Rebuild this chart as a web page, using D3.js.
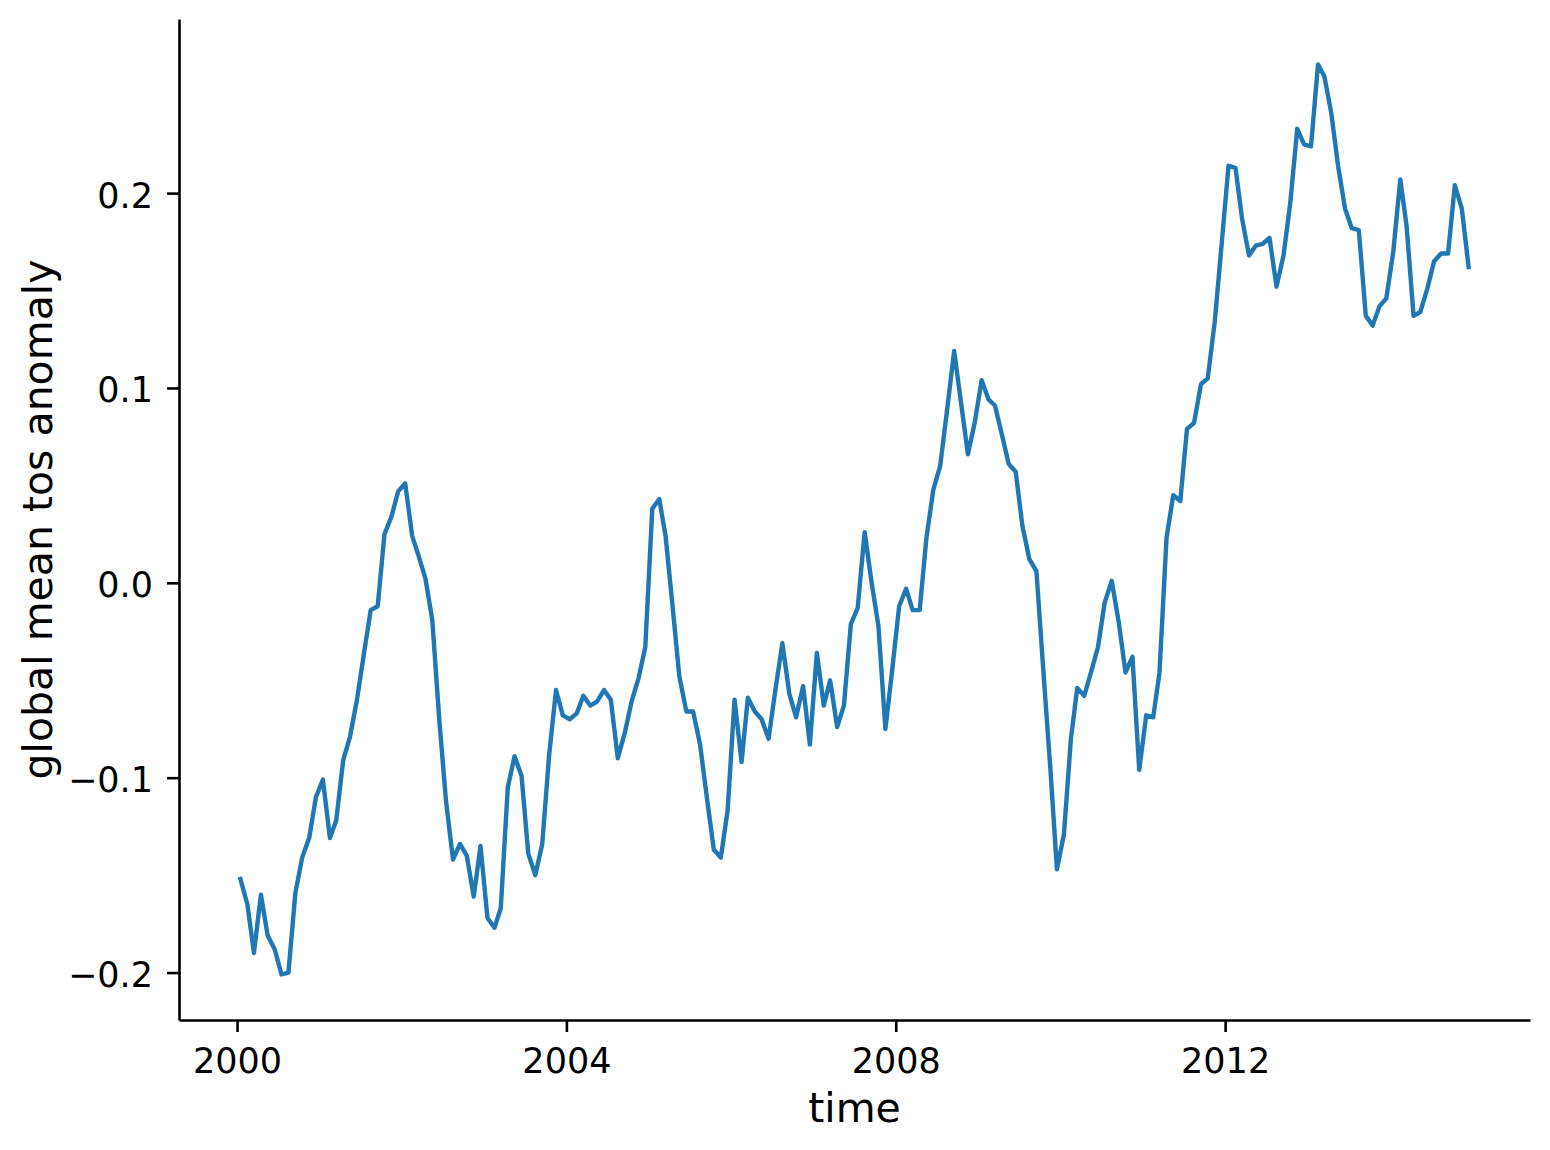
<!DOCTYPE html>
<html>
<head>
<meta charset="utf-8">
<script src="https://cdn.jsdelivr.net/npm/d3@7"></script>
<style>
  body { margin: 0; background: #fff; }
  svg text { font-family: "DejaVu Sans", sans-serif; fill: #000; }
</style>
</head>
<body>
<svg id="chart" width="1550" height="1150"></svg>
<script>
// years covered, one value per month
const years = [2000, 2001, 2002, 2003, 2004, 2005, 2006, 2007, 2008, 2009, 2010, 2011, 2012, 2013, 2014];

// global mean tos anomaly, monthly
const anomaly = [
  -0.152, -0.165, -0.190, -0.160, -0.181, -0.188, -0.201, -0.200, -0.159, -0.141, -0.131, -0.110,
  -0.101, -0.131, -0.122, -0.091, -0.079, -0.060, -0.037, -0.014, -0.012, 0.025, 0.034, 0.047,
  0.051, 0.024, 0.014, 0.002, -0.019, -0.070, -0.112, -0.142, -0.134, -0.140, -0.161, -0.135,
  -0.172, -0.177, -0.167, -0.105, -0.089, -0.099, -0.139, -0.150, -0.134, -0.089, -0.055, -0.068,
  -0.070, -0.067, -0.058, -0.063, -0.061, -0.055, -0.060, -0.090, -0.077, -0.061, -0.049, -0.033,
  0.038, 0.043, 0.024, -0.012, -0.048, -0.066, -0.066, -0.083, -0.111, -0.137, -0.141, -0.117,
  -0.060, -0.092, -0.059, -0.066, -0.070, -0.080, -0.055, -0.031, -0.057, -0.069, -0.053, -0.083,
  -0.036, -0.063, -0.050, -0.074, -0.063, -0.021, -0.013, 0.026, 0.000, -0.022, -0.075, -0.045,
  -0.012, -0.003, -0.014, -0.014, 0.023, 0.048, 0.060, 0.089, 0.119, 0.093, 0.066, 0.082,
  0.104, 0.094, 0.091, 0.076, 0.061, 0.057, 0.029, 0.012, 0.006, -0.044, -0.094, -0.147,
  -0.129, -0.080, -0.054, -0.058, -0.046, -0.033, -0.010, 0.001, -0.020, -0.046, -0.038, -0.096,
  -0.068, -0.069, -0.046, 0.023, 0.045, 0.042, 0.079, 0.082, 0.102, 0.105, 0.134, 0.173,
  0.214, 0.213, 0.187, 0.168, 0.173, 0.174, 0.177, 0.152, 0.168, 0.195, 0.233, 0.225,
  0.224, 0.266, 0.260, 0.241, 0.214, 0.192, 0.182, 0.181, 0.137, 0.132, 0.142, 0.146,
  0.170, 0.207, 0.183, 0.137, 0.139, 0.151, 0.165, 0.169, 0.169, 0.204, 0.192, 0.162,
];

const xTickYears = [2000, 2004, 2008, 2012];
const yTicks = [-0.2, -0.1, 0.0, 0.1, 0.2];

const xLabel = 'time';
const yLabel = 'global mean tos anomaly';

const margin = { top: 19, right: 20, bottom: 130, left: 179 };
const width = 1550 - margin.left - margin.right;
const height = 1150 - margin.top - margin.bottom;

// mid-month time stamps
const dates = years.flatMap(y => d3.range(12).map(m => new Date(Date.UTC(y, m, 16))));
const data = dates.map((date, i) => ({ date, value: anomaly[i] }));

const svg = d3.select('#chart');
const surface = svg.append('g')
  .attr('transform', `translate(${margin.left}, ${margin.top})`);

// 5% padding like matplotlib autoscale
const xExt = d3.extent(dates, d => +d);
const xPad = (xExt[1] - xExt[0]) * 0.05;
const x = d3.scaleUtc()
  .domain([new Date(xExt[0] - xPad), new Date(xExt[1] + xPad)])
  .range([0, width]);

const yExt = d3.extent(anomaly);
const yPad = (yExt[1] - yExt[0]) * 0.05;
const y = d3.scaleLinear()
  .domain([yExt[0] - yPad, yExt[1] + yPad])
  .range([height, 0]);

// the line
const valueline = d3.line()
  .x(d => x(d.date))
  .y(d => y(d.value));

surface.append('path')
  .datum(data)
  .attr('d', valueline)
  .attr('fill', 'none')
  .attr('stroke', '#1f77b4')
  .attr('stroke-width', 4.4)
  .attr('stroke-linejoin', 'round')
  .attr('stroke-linecap', 'square');

// x axis
const xAxis = surface.append('g')
  .attr('transform', `translate(0, ${height})`)
  .call(d3.axisBottom(x)
    .tickValues(xTickYears.map(yr => new Date(Date.UTC(yr, 0, 1))))
    .tickFormat(d3.utcFormat('%Y'))
    .tickSize(12)
    .tickSizeOuter(0)
    .tickPadding(16));

// y axis
const yAxis = surface.append('g')
  .call(d3.axisLeft(y)
    .tickValues(yTicks)
    .tickFormat(d3.format('.1f'))
    .tickSize(12)
    .tickSizeOuter(0)
    .tickPadding(14));

[xAxis, yAxis].forEach(ax => {
  ax.select('.domain').attr('stroke', '#000').attr('stroke-width', 2.6);
  ax.selectAll('.tick line').attr('stroke', '#000').attr('stroke-width', 2.6);
  ax.selectAll('.tick text')
    .attr('font-size', 35)
    .attr('font-family', '"DejaVu Sans", sans-serif')
    .attr('fill', '#000');
});
yAxis.selectAll('.tick text').attr('dy', '0.4em');

// axis labels
svg.append('text')
  .attr('x', margin.left + width / 2)
  .attr('y', 1122)
  .attr('text-anchor', 'middle')
  .attr('font-size', 41)
  .text(xLabel);

svg.append('text')
  .attr('transform', `translate(52, ${margin.top + height / 2}) rotate(-90)`)
  .attr('text-anchor', 'middle')
  .attr('font-size', 41)
  .text(yLabel);
</script>
</body>
</html>
